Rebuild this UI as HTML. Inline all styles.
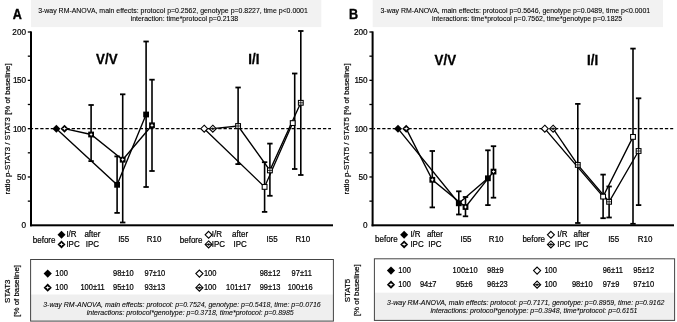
<!DOCTYPE html>
<html><head><meta charset="utf-8"><style>
html,body{margin:0;padding:0;background:#fff;width:677px;height:322px;overflow:hidden}
svg{will-change:transform}
svg text{font-family:"Liberation Sans", sans-serif}
</style></head><body>
<svg width="677" height="322" viewBox="0 0 677 322" style="display:block">
<g font-family='"Liberation Sans", sans-serif'>
<rect x="31" y="0" width="290.3" height="27.1" fill="#f2f2f2"/>
<text transform="translate(173,12.65) scale(1,1.1)" font-size="6.95" text-anchor="middle" font-weight="normal" font-style="normal" fill="#000" stroke="#000" stroke-width="0.08" >3-way RM-ANOVA, main effects: protocol p=0.2562, genotype p=0.8227, time p&lt;0.0001</text>
<text transform="translate(184.4,21.0) scale(1,1.1)" font-size="6.95" text-anchor="middle" font-weight="normal" font-style="normal" fill="#000" stroke="#000" stroke-width="0.08" >interaction: time*protocol p=0.2138</text>
<text transform="translate(17.4,19.2) scale(1,1.12)" font-size="12.6" text-anchor="middle" font-weight="bold" font-style="normal" fill="#000" stroke="#000" stroke-width="0.35" >A</text>
<rect x="372.7" y="0" width="290.3" height="27.1" fill="#f2f2f2"/>
<text transform="translate(515.3,12.65) scale(1,1.1)" font-size="6.95" text-anchor="middle" font-weight="normal" font-style="normal" fill="#000" stroke="#000" stroke-width="0.08" >3-way RM-ANOVA, main effects: protocol p=0.5646, genotype p=0.0489, time p&lt;0.0001</text>
<text transform="translate(527.1,21.0) scale(1,1.1)" font-size="6.95" text-anchor="middle" font-weight="normal" font-style="normal" fill="#000" stroke="#000" stroke-width="0.08" >interactions: time*protocol p=0.7562, time*genotype p=0.1825</text>
<text transform="translate(353.5,18.8) scale(1,1.12)" font-size="12.6" text-anchor="middle" font-weight="bold" font-style="normal" fill="#000" stroke="#000" stroke-width="0.35" >B</text>
<rect x="30" y="31.4" width="2" height="194.9" fill="#000"/>
<rect x="30" y="224.3" width="303" height="2" fill="#000"/>
<line x1="27.8" y1="201.13750000000002" x2="31" y2="201.13750000000002" stroke="#000" stroke-width="1.3" />
<line x1="27.8" y1="176.97500000000002" x2="31" y2="176.97500000000002" stroke="#000" stroke-width="1.3" />
<line x1="27.8" y1="152.8125" x2="31" y2="152.8125" stroke="#000" stroke-width="1.3" />
<line x1="27.8" y1="128.65" x2="31" y2="128.65" stroke="#000" stroke-width="1.3" />
<line x1="27.8" y1="104.48750000000001" x2="31" y2="104.48750000000001" stroke="#000" stroke-width="1.3" />
<line x1="27.8" y1="80.32500000000002" x2="31" y2="80.32500000000002" stroke="#000" stroke-width="1.3" />
<line x1="27.8" y1="56.162499999999994" x2="31" y2="56.162499999999994" stroke="#000" stroke-width="1.3" />
<line x1="27.8" y1="32.0" x2="31" y2="32.0" stroke="#000" stroke-width="1.3" />
<text transform="translate(26.0,228.20000000000002) scale(1,1.1)" font-size="8.2" text-anchor="end" font-weight="normal" font-style="normal" fill="#000" stroke="#000" stroke-width="0.2" >0</text>
<text transform="translate(26.0,179.87500000000003) scale(1,1.1)" font-size="8.2" text-anchor="end" font-weight="normal" font-style="normal" fill="#000" stroke="#000" stroke-width="0.2" >50</text>
<text transform="translate(26.0,131.55) scale(1,1.1)" font-size="8.2" text-anchor="end" font-weight="normal" font-style="normal" fill="#000" stroke="#000" stroke-width="0.2" >00</text>
<text transform="translate(17.4816,131.55) scale(1,1.1)" font-size="8.2" text-anchor="end" font-weight="normal" font-style="normal" fill="#000" stroke="#000" stroke-width="0.2" >1</text>
<text transform="translate(26.0,83.22500000000002) scale(1,1.1)" font-size="8.2" text-anchor="end" font-weight="normal" font-style="normal" fill="#000" stroke="#000" stroke-width="0.2" >50</text>
<text transform="translate(17.4816,83.22500000000002) scale(1,1.1)" font-size="8.2" text-anchor="end" font-weight="normal" font-style="normal" fill="#000" stroke="#000" stroke-width="0.2" >1</text>
<text transform="translate(26.0,34.9) scale(1,1.1)" font-size="8.2" text-anchor="end" font-weight="normal" font-style="normal" fill="#000" stroke="#000" stroke-width="0.2" >200</text>
<line x1="32" y1="128.65" x2="331" y2="128.65" stroke="#000" stroke-width="1.4" stroke-dasharray="3.3 1.935" stroke-dashoffset="2.2"/>
<text transform="translate(9.8,128.95000000000002) rotate(-90)" font-size="7.85" text-anchor="middle" stroke="#000" stroke-width="0.2">ratio p-STAT3 / STAT3 [% of baseline]</text>
<rect x="371.6" y="31.4" width="2" height="194.9" fill="#000"/>
<rect x="371.6" y="224.3" width="302.4" height="2" fill="#000"/>
<line x1="369.40000000000003" y1="201.13750000000002" x2="372.6" y2="201.13750000000002" stroke="#000" stroke-width="1.3" />
<line x1="369.40000000000003" y1="176.97500000000002" x2="372.6" y2="176.97500000000002" stroke="#000" stroke-width="1.3" />
<line x1="369.40000000000003" y1="152.8125" x2="372.6" y2="152.8125" stroke="#000" stroke-width="1.3" />
<line x1="369.40000000000003" y1="128.65" x2="372.6" y2="128.65" stroke="#000" stroke-width="1.3" />
<line x1="369.40000000000003" y1="104.48750000000001" x2="372.6" y2="104.48750000000001" stroke="#000" stroke-width="1.3" />
<line x1="369.40000000000003" y1="80.32500000000002" x2="372.6" y2="80.32500000000002" stroke="#000" stroke-width="1.3" />
<line x1="369.40000000000003" y1="56.162499999999994" x2="372.6" y2="56.162499999999994" stroke="#000" stroke-width="1.3" />
<line x1="369.40000000000003" y1="32.0" x2="372.6" y2="32.0" stroke="#000" stroke-width="1.3" />
<text transform="translate(367.6,228.20000000000002) scale(1,1.1)" font-size="8.2" text-anchor="end" font-weight="normal" font-style="normal" fill="#000" stroke="#000" stroke-width="0.2" >0</text>
<text transform="translate(367.6,179.87500000000003) scale(1,1.1)" font-size="8.2" text-anchor="end" font-weight="normal" font-style="normal" fill="#000" stroke="#000" stroke-width="0.2" >50</text>
<text transform="translate(367.6,131.55) scale(1,1.1)" font-size="8.2" text-anchor="end" font-weight="normal" font-style="normal" fill="#000" stroke="#000" stroke-width="0.2" >00</text>
<text transform="translate(359.08160000000004,131.55) scale(1,1.1)" font-size="8.2" text-anchor="end" font-weight="normal" font-style="normal" fill="#000" stroke="#000" stroke-width="0.2" >1</text>
<text transform="translate(367.6,83.22500000000002) scale(1,1.1)" font-size="8.2" text-anchor="end" font-weight="normal" font-style="normal" fill="#000" stroke="#000" stroke-width="0.2" >50</text>
<text transform="translate(359.08160000000004,83.22500000000002) scale(1,1.1)" font-size="8.2" text-anchor="end" font-weight="normal" font-style="normal" fill="#000" stroke="#000" stroke-width="0.2" >1</text>
<text transform="translate(367.6,34.9) scale(1,1.1)" font-size="8.2" text-anchor="end" font-weight="normal" font-style="normal" fill="#000" stroke="#000" stroke-width="0.2" >200</text>
<line x1="373.6" y1="128.65" x2="673.2" y2="128.65" stroke="#000" stroke-width="1.4" stroke-dasharray="3.3 1.935" stroke-dashoffset="1.85"/>
<text transform="translate(349.3,128.95000000000002) rotate(-90)" font-size="7.85" text-anchor="middle" stroke="#000" stroke-width="0.2">ratio p-STAT5 / STAT5 [% of baseline]</text>
<line x1="117.1" y1="156.4" x2="117.1" y2="212.9" stroke="#000" stroke-width="1.6" />
<line x1="114.39999999999999" y1="156.4" x2="119.8" y2="156.4" stroke="#000" stroke-width="1.8" />
<line x1="114.39999999999999" y1="212.9" x2="119.8" y2="212.9" stroke="#000" stroke-width="1.8" />
<line x1="146.1" y1="41.5" x2="146.1" y2="187.0" stroke="#000" stroke-width="1.6" />
<line x1="143.4" y1="41.5" x2="148.79999999999998" y2="41.5" stroke="#000" stroke-width="1.8" />
<line x1="143.4" y1="187.0" x2="148.79999999999998" y2="187.0" stroke="#000" stroke-width="1.8" />
<polyline points="56.4,128.65 117.1,184.8 146.1,114.5" fill="none" stroke="#000" stroke-width="1.35"/>
<line x1="91.1" y1="105.0" x2="91.1" y2="161.1" stroke="#000" stroke-width="1.6" />
<line x1="88.39999999999999" y1="105.0" x2="93.8" y2="105.0" stroke="#000" stroke-width="1.8" />
<line x1="88.39999999999999" y1="161.1" x2="93.8" y2="161.1" stroke="#000" stroke-width="1.8" />
<line x1="122.7" y1="94.30000000000001" x2="122.7" y2="222.5" stroke="#000" stroke-width="1.6" />
<line x1="120.0" y1="94.30000000000001" x2="125.4" y2="94.30000000000001" stroke="#000" stroke-width="1.8" />
<line x1="120.0" y1="222.5" x2="125.4" y2="222.5" stroke="#000" stroke-width="1.8" />
<line x1="152" y1="79.69999999999999" x2="152" y2="171.0" stroke="#000" stroke-width="1.6" />
<line x1="149.3" y1="79.69999999999999" x2="154.7" y2="79.69999999999999" stroke="#000" stroke-width="1.8" />
<line x1="149.3" y1="171.0" x2="154.7" y2="171.0" stroke="#000" stroke-width="1.8" />
<polyline points="64.5,128.65 91.1,134.5 122.7,159.7 152,125.3" fill="none" stroke="#000" stroke-width="1.35"/>
<line x1="264.6" y1="162.2" x2="264.6" y2="211.9" stroke="#000" stroke-width="1.6" />
<line x1="261.90000000000003" y1="162.2" x2="267.3" y2="162.2" stroke="#000" stroke-width="1.8" />
<line x1="261.90000000000003" y1="211.9" x2="267.3" y2="211.9" stroke="#000" stroke-width="1.8" />
<line x1="294.7" y1="73.5" x2="294.7" y2="169.0" stroke="#000" stroke-width="1.6" />
<line x1="292.0" y1="73.5" x2="297.4" y2="73.5" stroke="#000" stroke-width="1.8" />
<line x1="292.0" y1="169.0" x2="297.4" y2="169.0" stroke="#000" stroke-width="1.8" />
<polyline points="204.2,128.65 264.6,186.9 292.7,123.1" fill="none" stroke="#000" stroke-width="1.35"/>
<line x1="238.1" y1="87.5" x2="238.1" y2="164.1" stroke="#000" stroke-width="1.6" />
<line x1="235.4" y1="87.5" x2="240.79999999999998" y2="87.5" stroke="#000" stroke-width="1.8" />
<line x1="235.4" y1="164.1" x2="240.79999999999998" y2="164.1" stroke="#000" stroke-width="1.8" />
<line x1="269.9" y1="143.6" x2="269.9" y2="195.8" stroke="#000" stroke-width="1.6" />
<line x1="267.2" y1="143.6" x2="272.59999999999997" y2="143.6" stroke="#000" stroke-width="1.8" />
<line x1="267.2" y1="195.8" x2="272.59999999999997" y2="195.8" stroke="#000" stroke-width="1.8" />
<line x1="300.8" y1="31.0" x2="300.8" y2="175.0" stroke="#000" stroke-width="1.6" />
<line x1="298.1" y1="31.0" x2="303.5" y2="31.0" stroke="#000" stroke-width="1.8" />
<line x1="298.1" y1="175.0" x2="303.5" y2="175.0" stroke="#000" stroke-width="1.8" />
<polyline points="212.8,128.65 238.1,126.0 269.9,170.4 300.8,102.8" fill="none" stroke="#000" stroke-width="1.35"/>
<line x1="458.8" y1="191.3" x2="458.8" y2="214.5" stroke="#000" stroke-width="1.6" />
<line x1="456.1" y1="191.3" x2="461.5" y2="191.3" stroke="#000" stroke-width="1.8" />
<line x1="456.1" y1="214.5" x2="461.5" y2="214.5" stroke="#000" stroke-width="1.8" />
<line x1="487.9" y1="150.3" x2="487.9" y2="205.1" stroke="#000" stroke-width="1.6" />
<line x1="485.2" y1="150.3" x2="490.59999999999997" y2="150.3" stroke="#000" stroke-width="1.8" />
<line x1="485.2" y1="205.1" x2="490.59999999999997" y2="205.1" stroke="#000" stroke-width="1.8" />
<polyline points="398,128.65 458.8,203.3 487.9,178.3" fill="none" stroke="#000" stroke-width="1.35"/>
<line x1="432.3" y1="151.0" x2="432.3" y2="207.4" stroke="#000" stroke-width="1.6" />
<line x1="429.6" y1="151.0" x2="435.0" y2="151.0" stroke="#000" stroke-width="1.8" />
<line x1="429.6" y1="207.4" x2="435.0" y2="207.4" stroke="#000" stroke-width="1.8" />
<line x1="465.5" y1="197.0" x2="465.5" y2="216.3" stroke="#000" stroke-width="1.6" />
<line x1="462.8" y1="197.0" x2="468.2" y2="197.0" stroke="#000" stroke-width="1.8" />
<line x1="462.8" y1="216.3" x2="468.2" y2="216.3" stroke="#000" stroke-width="1.8" />
<line x1="493.5" y1="146.2" x2="493.5" y2="197.7" stroke="#000" stroke-width="1.6" />
<line x1="490.8" y1="146.2" x2="496.2" y2="146.2" stroke="#000" stroke-width="1.8" />
<line x1="490.8" y1="197.7" x2="496.2" y2="197.7" stroke="#000" stroke-width="1.8" />
<polyline points="406.2,128.65 432.3,179.8 465.5,207.0 493.5,171.6" fill="none" stroke="#000" stroke-width="1.35"/>
<line x1="603.1" y1="174.6" x2="603.1" y2="218.2" stroke="#000" stroke-width="1.6" />
<line x1="600.4" y1="174.6" x2="605.8000000000001" y2="174.6" stroke="#000" stroke-width="1.8" />
<line x1="600.4" y1="218.2" x2="605.8000000000001" y2="218.2" stroke="#000" stroke-width="1.8" />
<line x1="633" y1="48.599999999999994" x2="633" y2="223.8" stroke="#000" stroke-width="1.6" />
<line x1="630.3" y1="48.599999999999994" x2="635.7" y2="48.599999999999994" stroke="#000" stroke-width="1.8" />
<line x1="630.3" y1="223.8" x2="635.7" y2="223.8" stroke="#000" stroke-width="1.8" />
<polyline points="544.8,128.65 603.1,196.6 633,136.9" fill="none" stroke="#000" stroke-width="1.35"/>
<line x1="577.8" y1="103.9" x2="577.8" y2="223.0" stroke="#000" stroke-width="1.6" />
<line x1="575.0999999999999" y1="103.9" x2="580.5" y2="103.9" stroke="#000" stroke-width="1.8" />
<line x1="575.0999999999999" y1="223.0" x2="580.5" y2="223.0" stroke="#000" stroke-width="1.8" />
<line x1="609.1" y1="186.5" x2="609.1" y2="217.5" stroke="#000" stroke-width="1.6" />
<line x1="606.4" y1="186.5" x2="611.8000000000001" y2="186.5" stroke="#000" stroke-width="1.8" />
<line x1="606.4" y1="217.5" x2="611.8000000000001" y2="217.5" stroke="#000" stroke-width="1.8" />
<line x1="638.6" y1="98.30000000000001" x2="638.6" y2="205.1" stroke="#000" stroke-width="1.6" />
<line x1="635.9" y1="98.30000000000001" x2="641.3000000000001" y2="98.30000000000001" stroke="#000" stroke-width="1.8" />
<line x1="635.9" y1="205.1" x2="641.3000000000001" y2="205.1" stroke="#000" stroke-width="1.8" />
<polyline points="553.1,128.65 577.8,164.9 609.1,201.8 638.6,151.0" fill="none" stroke="#000" stroke-width="1.35"/>
<polygon points="56.4,124.65 60.4,128.65 56.4,132.65 52.4,128.65" fill="#000"/>
<rect x="114.19999999999999" y="181.9" width="5.8" height="5.8" fill="#000"/>
<rect x="143.2" y="111.6" width="5.8" height="5.8" fill="#000"/>
<polygon points="64.5,124.65 68.5,128.65 64.5,132.65 60.5,128.65" fill="#000"/>
<polygon points="62.1,128.65 63.9,128.05 64.5,126.75 65.1,128.05 66.9,128.65 65.1,129.25 64.5,130.55 63.9,129.25" fill="#fff"/>
<rect x="88.19999999999999" y="131.6" width="5.8" height="5.8" fill="#000"/>
<polygon points="89.39999999999999,134.5 90.5,133.9 91.1,132.8 91.69999999999999,133.9 92.8,134.5 91.69999999999999,135.1 91.1,136.2 90.5,135.1" fill="#fff"/>
<rect x="119.8" y="156.79999999999998" width="5.8" height="5.8" fill="#000"/>
<polygon points="121.0,159.7 122.10000000000001,159.1 122.7,158.0 123.3,159.1 124.4,159.7 123.3,160.29999999999998 122.7,161.39999999999998 122.10000000000001,160.29999999999998" fill="#fff"/>
<rect x="149.1" y="122.39999999999999" width="5.8" height="5.8" fill="#000"/>
<polygon points="150.3,125.3 151.4,124.7 152,123.6 152.6,124.7 153.7,125.3 152.6,125.89999999999999 152,127.0 151.4,125.89999999999999" fill="#fff"/>
<polygon points="204.2,125.2 207.64999999999998,128.65 204.2,132.1 200.75,128.65" fill="#fff" stroke="#000" stroke-width="1.1"/>
<rect x="262.20000000000005" y="184.5" width="4.8" height="4.8" fill="#fff" stroke="#000" stroke-width="1.05"/>
<rect x="290.3" y="120.69999999999999" width="4.8" height="4.8" fill="#fff" stroke="#000" stroke-width="1.05"/>
<polygon points="212.8,125.2 216.25,128.65 212.8,132.1 209.35000000000002,128.65" fill="#fff" stroke="#000" stroke-width="1.1"/>
<polygon points="212.8,127.15 214.525,128.65 212.8,130.15 211.07500000000002,128.65" fill="#333"/>
<line x1="209.85000000000002" y1="128.65" x2="215.75" y2="128.65" stroke="#000" stroke-width="0.8" />
<rect x="235.7" y="123.6" width="4.8" height="4.8" fill="#fff" stroke="#000" stroke-width="1.05"/>
<line x1="235.7" y1="126.0" x2="240.5" y2="126.0" stroke="#000" stroke-width="0.8" />
<line x1="238.1" y1="123.6" x2="238.1" y2="128.4" stroke="#000" stroke-width="0.8" />
<rect x="267.5" y="168.0" width="4.8" height="4.8" fill="#fff" stroke="#000" stroke-width="1.05"/>
<line x1="267.5" y1="170.4" x2="272.29999999999995" y2="170.4" stroke="#000" stroke-width="0.8" />
<line x1="269.9" y1="168.0" x2="269.9" y2="172.8" stroke="#000" stroke-width="0.8" />
<rect x="298.40000000000003" y="100.39999999999999" width="4.8" height="4.8" fill="#fff" stroke="#000" stroke-width="1.05"/>
<line x1="298.40000000000003" y1="102.8" x2="303.2" y2="102.8" stroke="#000" stroke-width="0.8" />
<line x1="300.8" y1="100.39999999999999" x2="300.8" y2="105.2" stroke="#000" stroke-width="0.8" />
<polygon points="398,124.65 402.0,128.65 398,132.65 394.0,128.65" fill="#000"/>
<rect x="455.90000000000003" y="200.4" width="5.8" height="5.8" fill="#000"/>
<rect x="485.0" y="175.4" width="5.8" height="5.8" fill="#000"/>
<polygon points="406.2,124.65 410.2,128.65 406.2,132.65 402.2,128.65" fill="#000"/>
<polygon points="403.8,128.65 405.59999999999997,128.05 406.2,126.75 406.8,128.05 408.59999999999997,128.65 406.8,129.25 406.2,130.55 405.59999999999997,129.25" fill="#fff"/>
<rect x="429.40000000000003" y="176.9" width="5.8" height="5.8" fill="#000"/>
<polygon points="430.6,179.8 431.7,179.20000000000002 432.3,178.10000000000002 432.90000000000003,179.20000000000002 434.0,179.8 432.90000000000003,180.4 432.3,181.5 431.7,180.4" fill="#fff"/>
<rect x="462.6" y="204.1" width="5.8" height="5.8" fill="#000"/>
<polygon points="463.8,207.0 464.9,206.4 465.5,205.3 466.1,206.4 467.2,207.0 466.1,207.6 465.5,208.7 464.9,207.6" fill="#fff"/>
<rect x="490.6" y="168.7" width="5.8" height="5.8" fill="#000"/>
<polygon points="491.8,171.6 492.9,171.0 493.5,169.9 494.1,171.0 495.2,171.6 494.1,172.2 493.5,173.29999999999998 492.9,172.2" fill="#fff"/>
<polygon points="544.8,125.2 548.25,128.65 544.8,132.1 541.3499999999999,128.65" fill="#fff" stroke="#000" stroke-width="1.1"/>
<rect x="600.7" y="194.2" width="4.8" height="4.8" fill="#fff" stroke="#000" stroke-width="1.05"/>
<rect x="630.6" y="134.5" width="4.8" height="4.8" fill="#fff" stroke="#000" stroke-width="1.05"/>
<polygon points="553.1,125.2 556.5500000000001,128.65 553.1,132.1 549.65,128.65" fill="#fff" stroke="#000" stroke-width="1.1"/>
<polygon points="553.1,127.15 554.825,128.65 553.1,130.15 551.375,128.65" fill="#333"/>
<line x1="550.15" y1="128.65" x2="556.0500000000001" y2="128.65" stroke="#000" stroke-width="0.8" />
<rect x="575.4" y="162.5" width="4.8" height="4.8" fill="#fff" stroke="#000" stroke-width="1.05"/>
<line x1="575.4" y1="164.9" x2="580.1999999999999" y2="164.9" stroke="#000" stroke-width="0.8" />
<line x1="577.8" y1="162.5" x2="577.8" y2="167.3" stroke="#000" stroke-width="0.8" />
<rect x="606.7" y="199.4" width="4.8" height="4.8" fill="#fff" stroke="#000" stroke-width="1.05"/>
<line x1="606.7" y1="201.8" x2="611.5" y2="201.8" stroke="#000" stroke-width="0.8" />
<line x1="609.1" y1="199.4" x2="609.1" y2="204.20000000000002" stroke="#000" stroke-width="0.8" />
<rect x="636.2" y="148.6" width="4.8" height="4.8" fill="#fff" stroke="#000" stroke-width="1.05"/>
<line x1="636.2" y1="151.0" x2="641.0" y2="151.0" stroke="#000" stroke-width="0.8" />
<line x1="638.6" y1="148.6" x2="638.6" y2="153.4" stroke="#000" stroke-width="0.8" />
<text transform="translate(106.8,64.0) scale(1,1.13)" font-size="13.3" text-anchor="middle" font-weight="bold" font-style="normal" fill="#000" stroke="#000" stroke-width="0.3" >V/V</text>
<text transform="translate(253.9,64.0) scale(1,1.13)" font-size="13.3" text-anchor="middle" font-weight="bold" font-style="normal" fill="#000" stroke="#000" stroke-width="0.3" >I/I</text>
<text transform="translate(445.3,65.0) scale(1,1.13)" font-size="13.3" text-anchor="middle" font-weight="bold" font-style="normal" fill="#000" stroke="#000" stroke-width="0.3" >V/V</text>
<text transform="translate(592.6,65.1) scale(1,1.13)" font-size="13.3" text-anchor="middle" font-weight="bold" font-style="normal" fill="#000" stroke="#000" stroke-width="0.3" >I/I</text>
<text transform="translate(44.1,242.5) scale(1,1.1)" font-size="8.0" text-anchor="middle" font-weight="normal" font-style="normal" fill="#000" stroke="#000" stroke-width="0.2" >before</text>
<polygon points="61.5,230.8 65.5,234.8 61.5,238.8 57.5,234.8" fill="#000"/>
<polygon points="61.5,240.4 65.5,244.4 61.5,248.4 57.5,244.4" fill="#000"/>
<polygon points="59.1,244.4 60.9,243.8 61.5,242.5 62.1,243.8 63.9,244.4 62.1,245.0 61.5,246.3 60.9,245.0" fill="#fff"/>
<text transform="translate(66.4,237.3) scale(1,1.1)" font-size="8.0" text-anchor="start" font-weight="normal" font-style="normal" fill="#000" stroke="#000" stroke-width="0.2" >I/R</text>
<text transform="translate(66.4,247.3) scale(1,1.1)" font-size="8.0" text-anchor="start" font-weight="normal" font-style="normal" fill="#000" stroke="#000" stroke-width="0.2" >IPC</text>
<text transform="translate(92.4,237.4) scale(1,1.1)" font-size="8.0" text-anchor="middle" font-weight="normal" font-style="normal" fill="#000" stroke="#000" stroke-width="0.2" >after</text>
<text transform="translate(92.4,247.3) scale(1,1.1)" font-size="8.0" text-anchor="middle" font-weight="normal" font-style="normal" fill="#000" stroke="#000" stroke-width="0.2" >IPC</text>
<text transform="translate(123.7,242.3) scale(1,1.1)" font-size="8.0" text-anchor="middle" font-weight="normal" font-style="normal" fill="#000" stroke="#000" stroke-width="0.2" >I55</text>
<text transform="translate(154.1,242.3) scale(1,1.1)" font-size="8.0" text-anchor="middle" font-weight="normal" font-style="normal" fill="#000" stroke="#000" stroke-width="0.2" >R10</text>
<text transform="translate(191.1,242.5) scale(1,1.1)" font-size="8.0" text-anchor="middle" font-weight="normal" font-style="normal" fill="#000" stroke="#000" stroke-width="0.2" >before</text>
<polygon points="208.6,231.35000000000002 212.04999999999998,234.8 208.6,238.25 205.15,234.8" fill="#fff" stroke="#000" stroke-width="1.1"/>
<polygon points="208.6,240.95000000000002 212.04999999999998,244.4 208.6,247.85 205.15,244.4" fill="#fff" stroke="#000" stroke-width="1.1"/>
<polygon points="208.6,242.9 210.325,244.4 208.6,245.9 206.875,244.4" fill="#333"/>
<line x1="205.65" y1="244.4" x2="211.54999999999998" y2="244.4" stroke="#000" stroke-width="0.8" />
<text transform="translate(211.7,237.3) scale(1,1.1)" font-size="8.0" text-anchor="start" font-weight="normal" font-style="normal" fill="#000" stroke="#000" stroke-width="0.2" >I/R</text>
<text transform="translate(211.7,247.3) scale(1,1.1)" font-size="8.0" text-anchor="start" font-weight="normal" font-style="normal" fill="#000" stroke="#000" stroke-width="0.2" >IPC</text>
<text transform="translate(240.1,237.4) scale(1,1.1)" font-size="8.0" text-anchor="middle" font-weight="normal" font-style="normal" fill="#000" stroke="#000" stroke-width="0.2" >after</text>
<text transform="translate(240.1,247.3) scale(1,1.1)" font-size="8.0" text-anchor="middle" font-weight="normal" font-style="normal" fill="#000" stroke="#000" stroke-width="0.2" >IPC</text>
<text transform="translate(272.1,242.3) scale(1,1.1)" font-size="8.0" text-anchor="middle" font-weight="normal" font-style="normal" fill="#000" stroke="#000" stroke-width="0.2" >I55</text>
<text transform="translate(302.8,242.3) scale(1,1.1)" font-size="8.0" text-anchor="middle" font-weight="normal" font-style="normal" fill="#000" stroke="#000" stroke-width="0.2" >R10</text>
<text transform="translate(386.4,242.0) scale(1,1.1)" font-size="8.0" text-anchor="middle" font-weight="normal" font-style="normal" fill="#000" stroke="#000" stroke-width="0.2" >before</text>
<polygon points="404.1,230.8 408.1,234.8 404.1,238.8 400.1,234.8" fill="#000"/>
<polygon points="404.1,240.4 408.1,244.4 404.1,248.4 400.1,244.4" fill="#000"/>
<polygon points="401.70000000000005,244.4 403.5,243.8 404.1,242.5 404.70000000000005,243.8 406.5,244.4 404.70000000000005,245.0 404.1,246.3 403.5,245.0" fill="#fff"/>
<text transform="translate(410.4,236.9) scale(1,1.1)" font-size="8.0" text-anchor="start" font-weight="normal" font-style="normal" fill="#000" stroke="#000" stroke-width="0.2" >I/R</text>
<text transform="translate(410.4,246.6) scale(1,1.1)" font-size="8.0" text-anchor="start" font-weight="normal" font-style="normal" fill="#000" stroke="#000" stroke-width="0.2" >IPC</text>
<text transform="translate(434.9,237.0) scale(1,1.1)" font-size="8.0" text-anchor="middle" font-weight="normal" font-style="normal" fill="#000" stroke="#000" stroke-width="0.2" >after</text>
<text transform="translate(434.9,246.6) scale(1,1.1)" font-size="8.0" text-anchor="middle" font-weight="normal" font-style="normal" fill="#000" stroke="#000" stroke-width="0.2" >IPC</text>
<text transform="translate(466.0,242.0) scale(1,1.1)" font-size="8.0" text-anchor="middle" font-weight="normal" font-style="normal" fill="#000" stroke="#000" stroke-width="0.2" >I55</text>
<text transform="translate(496.2,242.0) scale(1,1.1)" font-size="8.0" text-anchor="middle" font-weight="normal" font-style="normal" fill="#000" stroke="#000" stroke-width="0.2" >R10</text>
<text transform="translate(533.7,241.9) scale(1,1.1)" font-size="8.0" text-anchor="middle" font-weight="normal" font-style="normal" fill="#000" stroke="#000" stroke-width="0.2" >before</text>
<polygon points="550.9,231.35000000000002 554.35,234.8 550.9,238.25 547.4499999999999,234.8" fill="#fff" stroke="#000" stroke-width="1.1"/>
<polygon points="550.9,240.95000000000002 554.35,244.4 550.9,247.85 547.4499999999999,244.4" fill="#fff" stroke="#000" stroke-width="1.1"/>
<polygon points="550.9,242.9 552.625,244.4 550.9,245.9 549.175,244.4" fill="#333"/>
<line x1="547.9499999999999" y1="244.4" x2="553.85" y2="244.4" stroke="#000" stroke-width="0.8" />
<text transform="translate(557.3,236.9) scale(1,1.1)" font-size="8.0" text-anchor="start" font-weight="normal" font-style="normal" fill="#000" stroke="#000" stroke-width="0.2" >I/R</text>
<text transform="translate(557.3,247.0) scale(1,1.1)" font-size="8.0" text-anchor="start" font-weight="normal" font-style="normal" fill="#000" stroke="#000" stroke-width="0.2" >IPC</text>
<text transform="translate(581.5,237.0) scale(1,1.1)" font-size="8.0" text-anchor="middle" font-weight="normal" font-style="normal" fill="#000" stroke="#000" stroke-width="0.2" >after</text>
<text transform="translate(581.5,247.0) scale(1,1.1)" font-size="8.0" text-anchor="middle" font-weight="normal" font-style="normal" fill="#000" stroke="#000" stroke-width="0.2" >IPC</text>
<text transform="translate(613.7,242.0) scale(1,1.1)" font-size="8.0" text-anchor="middle" font-weight="normal" font-style="normal" fill="#000" stroke="#000" stroke-width="0.2" >I55</text>
<text transform="translate(645.0,242.0) scale(1,1.1)" font-size="8.0" text-anchor="middle" font-weight="normal" font-style="normal" fill="#000" stroke="#000" stroke-width="0.2" >R10</text>
<rect x="30.6" y="294.5" width="302.79999999999995" height="26.600000000000023" fill="#efefef"/>
<rect x="30.6" y="259.5" width="302.79999999999995" height="61.60000000000002" fill="none" stroke="#444" stroke-width="1"/>
<polygon points="47.7,269.5 51.800000000000004,273.6 47.7,277.70000000000005 43.6,273.6" fill="#000"/>
<text transform="translate(55.3,276.3) scale(1,1.1)" font-size="7.5" text-anchor="start" font-weight="normal" font-style="normal" fill="#000" stroke="#000" stroke-width="0.2" >100</text>
<text transform="translate(113,276.3) scale(1,1.1)" font-size="7.5" text-anchor="start" font-weight="normal" font-style="normal" fill="#000" stroke="#000" stroke-width="0.2" >98±10</text>
<text transform="translate(144.5,276.3) scale(1,1.1)" font-size="7.5" text-anchor="start" font-weight="normal" font-style="normal" fill="#000" stroke="#000" stroke-width="0.2" >97±10</text>
<polygon points="199.4,270.05 202.95000000000002,273.6 199.4,277.15000000000003 195.85,273.6" fill="#fff" stroke="#000" stroke-width="1.1"/>
<text transform="translate(203.9,276.3) scale(1,1.1)" font-size="7.5" text-anchor="start" font-weight="normal" font-style="normal" fill="#000" stroke="#000" stroke-width="0.2" >100</text>
<text transform="translate(259.7,276.3) scale(1,1.1)" font-size="7.5" text-anchor="start" font-weight="normal" font-style="normal" fill="#000" stroke="#000" stroke-width="0.2" >98±12</text>
<text transform="translate(291.6,276.3) scale(1,1.1)" font-size="7.5" text-anchor="start" font-weight="normal" font-style="normal" fill="#000" stroke="#000" stroke-width="0.2" >97±11</text>
<polygon points="47.7,283.59999999999997 51.800000000000004,287.7 47.7,291.8 43.6,287.7" fill="#000"/>
<polygon points="45.24,287.7 47.1,287.09999999999997 47.7,285.7525 48.300000000000004,287.09999999999997 50.160000000000004,287.7 48.300000000000004,288.3 47.7,289.6475 47.1,288.3" fill="#fff"/>
<text transform="translate(55.3,290.4) scale(1,1.1)" font-size="7.5" text-anchor="start" font-weight="normal" font-style="normal" fill="#000" stroke="#000" stroke-width="0.2" >100</text>
<text transform="translate(80.4,290.4) scale(1,1.1)" font-size="7.5" text-anchor="start" font-weight="normal" font-style="normal" fill="#000" stroke="#000" stroke-width="0.2" >100±11</text>
<text transform="translate(113,290.4) scale(1,1.1)" font-size="7.5" text-anchor="start" font-weight="normal" font-style="normal" fill="#000" stroke="#000" stroke-width="0.2" >95±10</text>
<text transform="translate(144.5,290.4) scale(1,1.1)" font-size="7.5" text-anchor="start" font-weight="normal" font-style="normal" fill="#000" stroke="#000" stroke-width="0.2" >93±13</text>
<polygon points="199.4,284.15 202.95000000000002,287.7 199.4,291.25 195.85,287.7" fill="#fff" stroke="#000" stroke-width="1.1"/>
<polygon points="199.4,286.2 201.125,287.7 199.4,289.2 197.675,287.7" fill="#333"/>
<line x1="196.35" y1="287.7" x2="202.45000000000002" y2="287.7" stroke="#000" stroke-width="0.8" />
<text transform="translate(203.9,290.4) scale(1,1.1)" font-size="7.5" text-anchor="start" font-weight="normal" font-style="normal" fill="#000" stroke="#000" stroke-width="0.2" >100</text>
<text transform="translate(226,290.4) scale(1,1.1)" font-size="7.5" text-anchor="start" font-weight="normal" font-style="normal" fill="#000" stroke="#000" stroke-width="0.2" >101±17</text>
<text transform="translate(259.7,290.4) scale(1,1.1)" font-size="7.5" text-anchor="start" font-weight="normal" font-style="normal" fill="#000" stroke="#000" stroke-width="0.2" >99±13</text>
<text transform="translate(287.7,290.4) scale(1,1.1)" font-size="7.5" text-anchor="start" font-weight="normal" font-style="normal" fill="#000" stroke="#000" stroke-width="0.2" >100±16</text>
<text transform="translate(43.2,306.6) scale(1,1.1)" font-size="7.0" text-anchor="start" font-weight="normal" font-style="italic" fill="#000" stroke="#000" stroke-width="0.08" >3-way RM-ANOVA, main effects: protocol: p=0.7524, genotype: p=0.5418, time: p=0.0716</text>
<text transform="translate(86.7,315.1) scale(1,1.1)" font-size="7.0" text-anchor="start" font-weight="normal" font-style="italic" fill="#000" stroke="#000" stroke-width="0.08" >interactions: protocol*genotype: p=0.3718, time*protocol: p=0.8985</text>
<text transform="translate(10.2,291.2) rotate(-90)" font-size="7.9" text-anchor="middle" stroke="#000" stroke-width="0.2">STAT3</text>
<text transform="translate(18.8,290.90000000000003) rotate(-90)" font-size="7.9" text-anchor="middle" stroke="#000" stroke-width="0.2">[% of baseline]</text>
<rect x="374.4" y="292.7" width="300.20000000000005" height="27.69999999999999" fill="#efefef"/>
<rect x="374.4" y="258.8" width="300.20000000000005" height="61.599999999999966" fill="none" stroke="#444" stroke-width="1"/>
<polygon points="391,266.5 395.1,270.6 391,274.70000000000005 386.9,270.6" fill="#000"/>
<text transform="translate(398.3,273.3) scale(1,1.1)" font-size="7.5" text-anchor="start" font-weight="normal" font-style="normal" fill="#000" stroke="#000" stroke-width="0.2" >100</text>
<text transform="translate(452.6,273.3) scale(1,1.1)" font-size="7.5" text-anchor="start" font-weight="normal" font-style="normal" fill="#000" stroke="#000" stroke-width="0.2" >100±10</text>
<text transform="translate(487,273.3) scale(1,1.1)" font-size="7.5" text-anchor="start" font-weight="normal" font-style="normal" fill="#000" stroke="#000" stroke-width="0.2" >98±9</text>
<polygon points="537.1,267.05 540.65,270.6 537.1,274.15000000000003 533.5500000000001,270.6" fill="#fff" stroke="#000" stroke-width="1.1"/>
<text transform="translate(544.4,273.3) scale(1,1.1)" font-size="7.5" text-anchor="start" font-weight="normal" font-style="normal" fill="#000" stroke="#000" stroke-width="0.2" >100</text>
<text transform="translate(602.7,273.3) scale(1,1.1)" font-size="7.5" text-anchor="start" font-weight="normal" font-style="normal" fill="#000" stroke="#000" stroke-width="0.2" >96±11</text>
<text transform="translate(633.3,273.3) scale(1,1.1)" font-size="7.5" text-anchor="start" font-weight="normal" font-style="normal" fill="#000" stroke="#000" stroke-width="0.2" >95±12</text>
<polygon points="391,280.59999999999997 395.1,284.7 391,288.8 386.9,284.7" fill="#000"/>
<polygon points="388.54,284.7 390.4,284.09999999999997 391,282.7525 391.6,284.09999999999997 393.46,284.7 391.6,285.3 391,286.6475 390.4,285.3" fill="#fff"/>
<text transform="translate(398.3,287.4) scale(1,1.1)" font-size="7.5" text-anchor="start" font-weight="normal" font-style="normal" fill="#000" stroke="#000" stroke-width="0.2" >100</text>
<text transform="translate(419.9,287.4) scale(1,1.1)" font-size="7.5" text-anchor="start" font-weight="normal" font-style="normal" fill="#000" stroke="#000" stroke-width="0.2" >94±7</text>
<text transform="translate(456,287.4) scale(1,1.1)" font-size="7.5" text-anchor="start" font-weight="normal" font-style="normal" fill="#000" stroke="#000" stroke-width="0.2" >95±6</text>
<text transform="translate(487,287.4) scale(1,1.1)" font-size="7.5" text-anchor="start" font-weight="normal" font-style="normal" fill="#000" stroke="#000" stroke-width="0.2" >96±23</text>
<polygon points="537.1,281.15 540.65,284.7 537.1,288.25 533.5500000000001,284.7" fill="#fff" stroke="#000" stroke-width="1.1"/>
<polygon points="537.1,283.2 538.825,284.7 537.1,286.2 535.375,284.7" fill="#333"/>
<line x1="534.0500000000001" y1="284.7" x2="540.15" y2="284.7" stroke="#000" stroke-width="0.8" />
<text transform="translate(544.4,287.4) scale(1,1.1)" font-size="7.5" text-anchor="start" font-weight="normal" font-style="normal" fill="#000" stroke="#000" stroke-width="0.2" >100</text>
<text transform="translate(571.9,287.4) scale(1,1.1)" font-size="7.5" text-anchor="start" font-weight="normal" font-style="normal" fill="#000" stroke="#000" stroke-width="0.2" >98±10</text>
<text transform="translate(602.7,287.4) scale(1,1.1)" font-size="7.5" text-anchor="start" font-weight="normal" font-style="normal" fill="#000" stroke="#000" stroke-width="0.2" >97±9</text>
<text transform="translate(633.3,287.4) scale(1,1.1)" font-size="7.5" text-anchor="start" font-weight="normal" font-style="normal" fill="#000" stroke="#000" stroke-width="0.2" >97±10</text>
<text transform="translate(387,304.7) scale(1,1.1)" font-size="7.0" text-anchor="start" font-weight="normal" font-style="italic" fill="#000" stroke="#000" stroke-width="0.08" >3-way RM-ANOVA, main effects: protocol: p=0.7171, genotype: p=0.8959, time: p=0.9162</text>
<text transform="translate(430.5,313.0) scale(1,1.1)" font-size="7.0" text-anchor="start" font-weight="normal" font-style="italic" fill="#000" stroke="#000" stroke-width="0.08" >interactions: protocol*genotype: p=0.3948, time*protocol: p=0.6151</text>
<text transform="translate(350.2,290.5) rotate(-90)" font-size="7.9" text-anchor="middle" stroke="#000" stroke-width="0.2">STAT5</text>
<text transform="translate(358.8,290.20000000000005) rotate(-90)" font-size="7.9" text-anchor="middle" stroke="#000" stroke-width="0.2">[% of baseline]</text>
</g></svg>
</body></html>
